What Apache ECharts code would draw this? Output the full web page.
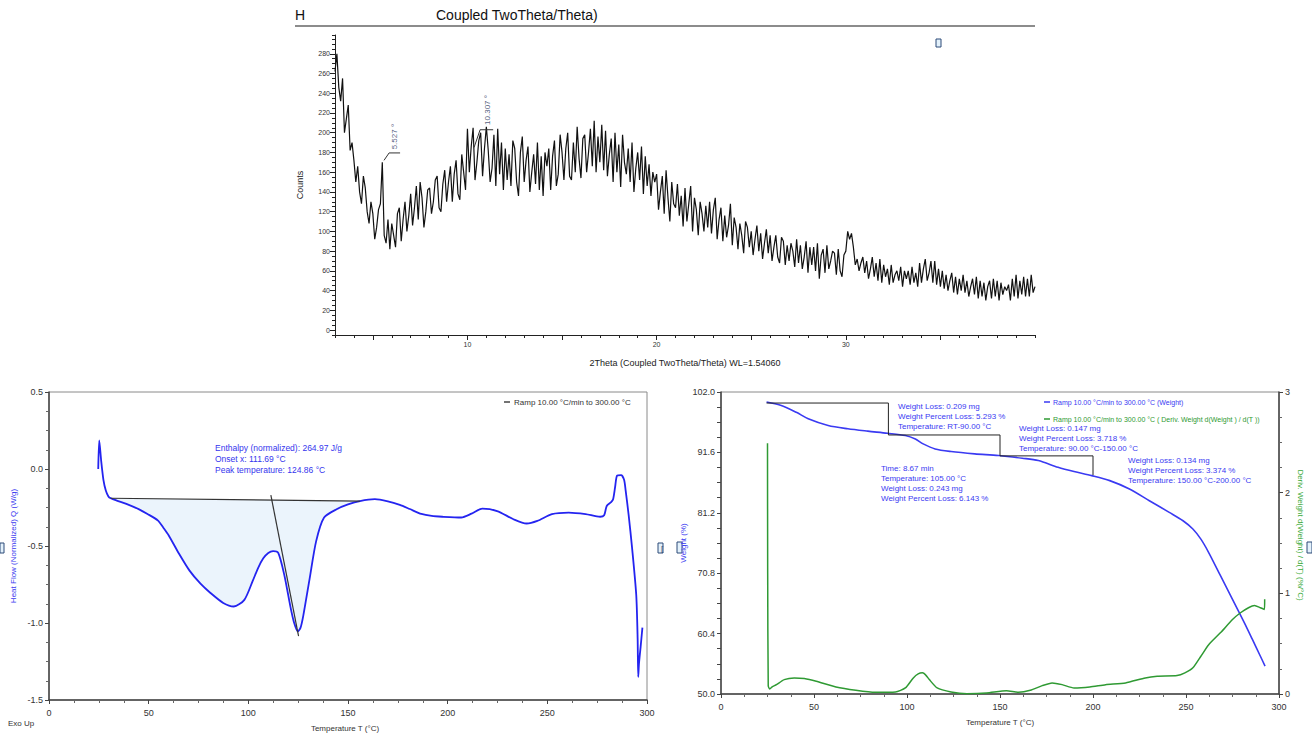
<!DOCTYPE html>
<html>
<head>
<meta charset="utf-8">
<title>XRD / DSC / TGA</title>
<script src="https://cdn.jsdelivr.net/npm/echarts@6/dist/echarts.min.js"></script>
<style>
  html, body { margin: 0; padding: 0; background: #fff; }
  #main { width: 1312px; height: 733px; }
</style>
</head>
<body>
<div id="main"></div>
<script>
// ---- XRD: counts read every 0.1 deg, 2theta 3.0 .. 40.0
var xrdStart = 3.0, xrdStep = 0.1;
var xrdCounts = [
  262, 280, 246, 232, 255, 200, 214, 228, 182, 190,
  172, 150, 166, 140, 128, 156, 144, 120, 108, 130,
  118, 92, 104, 122, 128, 170, 96, 88, 112, 82,
  108, 96, 84, 118, 124, 90, 112, 130, 100, 116,
  138, 106, 124, 146, 112, 150, 134, 104, 120, 142,
  144, 118, 130, 152, 156, 124, 120, 148, 162, 130,
  150, 166, 130, 158, 172, 138, 132, 178, 160, 142,
  204, 160, 186, 205, 152, 170, 192, 200, 156, 184,
  206, 182, 150, 164, 198, 146, 204, 158, 190, 142,
  184, 152, 178, 146, 192, 184, 150, 136, 180, 196,
  150, 172, 186, 140, 160, 178, 148, 190, 142, 176,
  136, 180, 166, 184, 142, 176, 192, 146, 158, 198,
  180, 152, 184, 200, 156, 152, 190, 160, 206, 174,
  154, 194, 198, 160, 180, 204, 166, 212, 160, 196,
  170, 208, 162, 202, 156, 178, 194, 150, 200, 160,
  188, 145, 198, 170, 158, 184, 150, 190, 140, 164,
  180, 152, 186, 138, 176, 146, 168, 136, 160, 150,
  158, 122, 140, 156, 118, 162, 134, 110, 150, 128,
  124, 148, 116, 136, 105, 144, 110, 128, 146, 100,
  134, 122, 96, 130, 118, 100, 126, 104, 130, 98,
  122, 134, 92, 112, 124, 90, 116, 94, 106, 128,
  86, 114, 104, 82, 108, 96, 78, 110, 104, 84,
  100, 76, 92, 106, 80, 98, 72, 88, 102, 78,
  96, 70, 84, 96, 74, 68, 94, 90, 66, 86,
  70, 88, 80, 64, 92, 68, 86, 62, 74, 90,
  58, 84, 66, 84, 60, 88, 52, 76, 82, 58,
  86, 62, 70, 80, 78, 56, 82, 60, 54, 76,
  80, 100, 92, 98, 84, 66, 72, 60, 68, 74,
  58, 70, 52, 62, 74, 54, 68, 50, 72, 48,
  66, 54, 62, 46, 66, 48, 56, 60, 50, 64,
  44, 60, 52, 60, 46, 64, 48, 58, 44, 68,
  48, 62, 72, 50, 58, 70, 48, 70, 46, 62,
  44, 60, 42, 56, 40, 50, 58, 38, 54, 36,
  52, 40, 56, 38, 50, 34, 44, 52, 36, 54,
  32, 50, 34, 48, 30, 44, 50, 32, 52, 34,
  50, 30, 48, 36, 44, 40, 46, 30, 52, 34,
  56, 32, 50, 36, 54, 34, 52, 34, 56, 38,
  44
];
var xrdXLabels = [10, 20, 30];
var xrdXMidTicks = [5, 15, 25, 35];
var xrdYLabels = [0, 20, 40, 60, 80, 100, 120, 140, 160, 180, 200, 220, 240, 260, 280];
var xrdPeakNames = ['5.527 °', '10.307 °'];
var xrdPeakLabelPos = [[6.17, 196], [11.04, 223]];
var xrdLeader1 = [[5.59, 172], [5.86, 179.5], [6.44, 179.5]];
var xrdLeader2 = [[10.35, 185], [10.67, 203], [11.36, 203]];

// ---- DSC: temperature (°C) / heat flow (W/g)
var dscTemp = [24.7, 25.2, 26.2, 27.3, 28.5, 29.8, 31, 34, 38.8, 45.2, 49.4, 54.7, 57.3, 60, 65, 70.5, 76, 81, 87.4, 92.7,
  98, 102.2, 105, 107.5, 110, 112.4, 115, 118, 121.2, 123, 124.8, 126.2, 127.6, 130.8, 134, 138, 144.5, 150, 156,
  163.5, 170, 176, 181, 186.8, 192, 197.3, 206.8, 212, 217.4, 224.8, 233, 239.6, 245, 252.3, 260.7, 269.2, 276.5,
  278.5, 279.8, 282, 283, 284, 285, 287, 288.5, 289.3, 290.8, 292.5, 294.6, 295.3, 295.6, 296, 296.8, 297.7];
var dscHeat = [0.0, 0.186, 0.05, -0.07, -0.14, -0.178, -0.19, -0.205, -0.226, -0.262, -0.292, -0.335, -0.38, -0.43, -0.545,
  -0.66, -0.745, -0.805, -0.87, -0.893, -0.85, -0.727, -0.64, -0.58, -0.545, -0.533, -0.545, -0.686, -0.90, -1.0, -1.055,
  -1.03, -0.95, -0.708, -0.47, -0.315, -0.26, -0.23, -0.208, -0.196, -0.21, -0.233, -0.26, -0.292, -0.305, -0.31,
  -0.315, -0.29, -0.257, -0.273, -0.326, -0.354, -0.337, -0.293, -0.283, -0.293, -0.31, -0.30, -0.24, -0.215,
  -0.196, -0.117, -0.043, -0.04, -0.07, -0.14, -0.30, -0.51, -0.817, -1.10, -1.35, -1.26, -1.155, -1.03];
var dscBaseline = [[31, -0.19], [156, -0.208]];
var dscOnsetLine = [[111.3, -0.17], [125.2, -1.085]];
var dscNotes = ['Enthalpy (normalized): 264.97 J/g', 'Onset x: 111.69 °C', 'Peak temperature: 124.86 °C'];

// ---- TGA: weight (%) and derivative (%/°C)
var tgaTemp = [24.5, 32, 40.5, 46.9, 57.6, 68.2, 78.9, 89.5, 99.1, 104.5, 108.7, 115.1, 123.7, 136.4, 149.2, 162,
  170.6, 181.2, 189.8, 199.3, 209, 219.6, 230.3, 241, 248.4, 253.7, 258, 262.2, 268.6, 275, 281.4, 285.7, 290, 292.5];
var tgaWeight = [100.27, 99.7, 98.5, 97.4, 96.24, 95.67, 95.26, 94.9, 94.5, 93.9, 93.07, 92.2, 91.75, 91.35, 91.06,
  90.6, 90.2, 89.04, 88.3, 87.6, 86.74, 85.3, 83.28, 81.27, 79.83, 78.4, 76.66, 74.36, 70.33, 66.3, 62.26, 59.4, 56.5, 54.8];
var dtgTemp = [25.0, 25.1, 25.4, 26.2, 27.5, 29.8, 34, 39.4, 44.8, 51.2, 61.8, 72.5, 83, 93.8, 99.1, 103.4, 106, 108.3,
  110, 112, 116.2, 123.7, 132.2, 142.8, 153.5, 160, 166.3, 172.7, 178, 183.4, 189.8, 198.3, 206.8, 217.5, 228.1,
  234.5, 245.2, 249.4, 253.7, 258, 262.2, 268.6, 275, 279.3, 283.6, 286.8, 290, 292.2, 292.3];
var dtgValue = [2.49, 1.2, 0.08, 0.05, 0.07, 0.093, 0.143, 0.16, 0.153, 0.126, 0.07, 0.037, 0.017, 0.02, 0.06, 0.16,
  0.2, 0.21, 0.19, 0.143, 0.06, 0.02, 0.003, 0.01, 0.033, 0.017, 0.037, 0.083, 0.11, 0.093, 0.06, 0.07, 0.093, 0.11,
  0.16, 0.176, 0.183, 0.21, 0.26, 0.375, 0.49, 0.61, 0.74, 0.807, 0.857, 0.88, 0.857, 0.84, 0.94];
var tgaLabels = [50, 60.4, 70.8, 81.2, 91.6, 102];
var tgaTicks = [50, 52.6, 55.2, 57.8, 60.4, 63, 65.6, 68.2, 70.8, 73.4, 76, 78.6, 81.2, 83.8, 86.4, 89, 91.6, 94.2, 96.8, 99.4, 102];
var tgaSteps = [
  [[24.5, 100.1], [90, 100.1], [90, 94.6]],
  [[90, 94.6], [150, 94.6], [150, 91.0]],
  [[150, 91.0], [200, 91.0], [200, 87.7]]
];
var tgaNotes1 = ['Weight Loss: 0.209 mg', 'Weight Percent Loss: 5.293 %', 'Temperature: RT-90.00 °C'];
var tgaNotes2 = ['Weight Loss: 0.147 mg', 'Weight Percent Loss: 3.718 %', 'Temperature: 90.00 °C-150.00 °C'];
var tgaNotes3 = ['Weight Loss: 0.134 mg', 'Weight Percent Loss: 3.374 %', 'Temperature: 150.00 °C-200.00 °C'];
var tgaNotes4 = ['Time: 8.67 min', 'Temperature: 105.00 °C', 'Weight Loss: 0.243 mg', 'Weight Percent Loss: 6.143 %'];

var FONT = '"Liberation Sans", Arial, sans-serif';
var chart = echarts.init(document.getElementById('main'), null, { renderer: 'svg' });

function zip(a, b) {
  return a.map(function (v, i) { return [v, b[i]]; });
}
var xrdData = xrdCounts.map(function (c, i) {
  return [+(xrdStart + i * xrdStep).toFixed(1), c];
});

function txt(x, y, text, size, color, opt) {
  opt = opt || {};
  return {
    type: 'text', x: x, y: y, rotation: opt.rot || 0, silent: true, z: 100,
    style: {
      text: text, fill: color, font: (opt.style || '') + ' ' + size + 'px ' + FONT,
      textAlign: opt.align || 'left', textVerticalAlign: 'middle'
    }
  };
}
function lines(x, y0, list, gap, size, color) {
  return list.map(function (s, i) { return txt(x, y0 + i * gap, s, size, color); });
}
function box(x, y, w, h) {
  return { type: 'rect', shape: { x: x, y: y, width: w, height: h }, silent: true,
    style: { fill: '#e3f1fb', stroke: '#2c4a78', lineWidth: 1 } };
}
function seg(x1, y1, x2, y2, color, w) {
  return { type: 'line', shape: { x1: x1, y1: y1, x2: x2, y2: y2 }, silent: true,
    style: { stroke: color, lineWidth: w } };
}

var axisDark = { onZero: false, lineStyle: { color: '#222', width: 1 } };
var axisGray = { onZero: false, lineStyle: { color: '#444', width: 1.5 } };
var lbl = function (size, extra) {
  var o = { fontSize: size, color: '#333', fontFamily: FONT };
  for (var k in extra) o[k] = extra[k];
  return o;
};

var option = {
  animation: false,
  backgroundColor: '#fff',
  grid: [
    { left: 335, right: 277, top: 35, bottom: 398 },
    { left: 49, right: 665, top: 392, bottom: 33, show: true, borderColor: '#8a8a8a', borderWidth: 1 },
    { left: 721, right: 33, top: 392, bottom: 39, show: true, borderColor: '#8a8a8a', borderWidth: 1 }
  ],
  xAxis: [
    { gridIndex: 0, type: 'value', position: 'bottom', min: 3, max: 40, interval: 1, axisLine: axisDark,
      axisTick: { length: 3, lineStyle: { color: '#222' } },
      axisLabel: lbl(7, { margin: 6, formatter: function (v) { return xrdXLabels.indexOf(v) >= 0 ? v : ''; } }),
      splitLine: { show: false } },
    { gridIndex: 0, type: 'value', position: 'bottom', min: 3, max: 40, axisLine: { show: false, onZero: false },
      axisTick: { length: 5, customValues: xrdXMidTicks.concat(xrdXLabels), lineStyle: { color: '#222' } },
      axisLabel: { show: false }, splitLine: { show: false } },
    { gridIndex: 1, type: 'value', min: 0, max: 300, interval: 50, axisLine: axisGray,
      axisTick: { length: 4, lineStyle: { color: '#444' } },
      minorTick: { show: true, splitNumber: 4, length: 3, lineStyle: { color: '#666' } },
      axisLabel: lbl(9, { margin: 8 }), splitLine: { show: false } },
    { gridIndex: 2, type: 'value', min: 0, max: 300, interval: 50, axisLine: axisGray,
      axisTick: { length: 4, lineStyle: { color: '#444' } },
      minorTick: { show: true, splitNumber: 4, length: 3, lineStyle: { color: '#666' } },
      axisLabel: lbl(9, { margin: 8 }), splitLine: { show: false } }
  ],
  yAxis: [
    { gridIndex: 0, type: 'value', position: 'left', min: -5, max: 299, interval: 5, axisLine: axisDark,
      axisTick: { length: 3, lineStyle: { color: '#222' } },
      axisLabel: lbl(7, { margin: 5, formatter: function (v) { return xrdYLabels.indexOf(v) >= 0 ? v : ''; } }),
      splitLine: { show: false } },
    { gridIndex: 0, type: 'value', position: 'left', min: -5, max: 299, axisLine: { show: false, onZero: false },
      axisTick: { length: 5, customValues: xrdYLabels, lineStyle: { color: '#222' } },
      axisLabel: { show: false }, splitLine: { show: false } },
    { gridIndex: 1, type: 'value', min: -1.5, max: 0.5, interval: 0.5, axisLine: axisGray,
      axisTick: { length: 4, lineStyle: { color: '#444' } },
      minorTick: { show: true, splitNumber: 4, length: 3, lineStyle: { color: '#666' } },
      axisLabel: lbl(9, { margin: 6, formatter: function (v) { return v.toFixed(1); } }),
      splitLine: { show: false } },
    { gridIndex: 2, type: 'value', position: 'left', min: 50, max: 102, axisLine: axisGray,
      axisTick: { length: 4, customValues: tgaTicks, lineStyle: { color: '#444' } },
      axisLabel: lbl(9, { margin: 6, customValues: tgaLabels, formatter: function (v) { return v.toFixed(1); } }),
      splitLine: { show: false } },
    { gridIndex: 2, type: 'value', position: 'right', min: 0, max: 3, interval: 1, axisLine: axisGray,
      axisTick: { length: 4, lineStyle: { color: '#444' } },
      minorTick: { show: true, splitNumber: 4, length: 3, lineStyle: { color: '#666' } },
      axisLabel: lbl(9, { margin: 6 }), splitLine: { show: false } }
  ],
  series: [
    // XRD pattern
    { name: 'XRD', type: 'line', xAxisIndex: 0, yAxisIndex: 0, data: xrdData, showSymbol: false,
      lineStyle: { color: '#111', width: 1.2 }, silent: true },
    { type: 'line', xAxisIndex: 0, yAxisIndex: 0, data: xrdLeader1, showSymbol: false,
      lineStyle: { color: '#333', width: 1 }, silent: true },
    { type: 'line', xAxisIndex: 0, yAxisIndex: 0, data: xrdLeader2, showSymbol: false,
      lineStyle: { color: '#333', width: 1 }, silent: true },
    { type: 'scatter', xAxisIndex: 0, yAxisIndex: 0, symbolSize: 0, silent: true, z: 5,
      data: xrdPeakLabelPos.map(function (p, i) { return [p[0], p[1], xrdPeakNames[i]]; }),
      label: { show: true, position: 'inside', rotate: 90, fontSize: 8, color: '#26325a', fontFamily: FONT,
        formatter: function (p) { return p.value[2]; } } },

    // DSC
    { type: 'custom', xAxisIndex: 2, yAxisIndex: 2, data: [[0, 0]], silent: true, z: 1,
      renderItem: function (params, api) {
        var pts = [];
        for (var i = 0; i < dscTemp.length; i++) {
          if (dscTemp[i] >= dscBaseline[0][0] && dscTemp[i] <= dscBaseline[1][0]) {
            pts.push(api.coord([dscTemp[i], dscHeat[i]]));
          }
        }
        pts.push(api.coord(dscBaseline[1]));
        pts.push(api.coord(dscBaseline[0]));
        return { type: 'polygon', shape: { points: pts }, style: { fill: '#ebf4fc' } };
      } },
    { name: 'Ramp 10.00 °C/min to 300.00 °C', type: 'line', xAxisIndex: 2, yAxisIndex: 2,
      data: zip(dscTemp, dscHeat), showSymbol: false, smooth: 0.25, z: 3,
      lineStyle: { color: '#2424f0', width: 1.8 }, silent: true },
    { type: 'line', xAxisIndex: 2, yAxisIndex: 2, data: dscBaseline, showSymbol: false, z: 4,
      lineStyle: { color: '#333', width: 1.2 }, silent: true },
    { type: 'line', xAxisIndex: 2, yAxisIndex: 2, data: dscOnsetLine, showSymbol: false, z: 4,
      lineStyle: { color: '#333', width: 1.2 }, silent: true },

    // TGA
    { name: 'Ramp 10.00 °C/min to 300.00 °C (Weight)', type: 'line', xAxisIndex: 3, yAxisIndex: 3,
      data: zip(tgaTemp, tgaWeight), showSymbol: false, smooth: 0.3, z: 3,
      lineStyle: { color: '#3a3af2', width: 1.6 }, silent: true },
    { name: 'Ramp 10.00 °C/min to 300.00 °C ( Deriv. Weight d(Weight ) / d(T ))', type: 'line',
      xAxisIndex: 3, yAxisIndex: 4, data: zip(dtgTemp, dtgValue), showSymbol: false, smooth: 0.2, z: 3,
      lineStyle: { color: '#2f9a33', width: 1.5 }, silent: true }
  ].concat(tgaSteps.map(function (s) {
    return { type: 'line', xAxisIndex: 3, yAxisIndex: 3, data: s, showSymbol: false, z: 4,
      lineStyle: { color: '#222', width: 1 }, silent: true };
  })),
  graphic: [
    // XRD header
    txt(295, 15, 'H', 14, '#111'),
    txt(436, 15, 'Coupled TwoTheta/Theta)', 14, '#111'),
    seg(295, 26, 1035, 26, '#666', 1.5),
    box(936, 39, 5, 8),
    txt(685, 363, '2Theta (Coupled TwoTheta/Theta) WL=1.54060', 9, '#222', { align: 'center' }),
    txt(300, 185, 'Counts', 9, '#222', { align: 'center', rot: Math.PI / 2 }),

    // DSC texts
    seg(504, 402, 510, 402, '#444', 1.5),
    txt(514, 402, 'Ramp 10.00 °C/min to 300.00 °C', 8, '#333'),
    txt(13, 546, 'Heat Flow (Normalized) Q (W/g)', 8, '#3a3af0', { align: 'center', rot: Math.PI / 2 }),
    box(0, 543, 4, 10),
    box(658, 543, 5, 10),
    txt(8, 723, 'Exo Up', 8, '#333'),
    txt(345, 728, 'Temperature T (°C)', 8, '#333', { align: 'center' }),

    // TGA texts
    seg(1044, 402, 1050, 402, '#3a3af2', 1.5),
    txt(1053, 402, 'Ramp 10.00 °C/min to 300.00 °C (Weight)', 7, '#3a3af2'),
    seg(1044, 419, 1050, 419, '#2f9a33', 1.5),
    txt(1053, 419, 'Ramp 10.00 °C/min to 300.00 °C ( Deriv. Weight d(Weight ) / d(T ))', 7, '#2f9a33'),
    txt(683, 543, 'Weight (%)', 8, '#3a3af2', { align: 'center', rot: Math.PI / 2 }),
    txt(661, 548, '[', 8, '#2c4a78'),
    box(677, 542, 5, 11),
    box(1307, 542, 5, 11),
    txt(1300, 535, 'Deriv. Weight d(Weight) / d(T) (%/°C)', 8, '#3aaa3a', { align: 'center', rot: -Math.PI / 2 }),
    txt(1000, 722, 'Temperature T (°C)', 8, '#333', { align: 'center' })
  ]
    .concat(lines(215, 448, dscNotes, 11, 8.5, '#3535ee'))
    .concat(lines(898, 406, tgaNotes1, 10, 8, '#3a3af2'))
    .concat(lines(1019, 428, tgaNotes2, 10, 8, '#3a3af2'))
    .concat(lines(1128, 460, tgaNotes3, 10, 8, '#3a3af2'))
    .concat(lines(881, 468, tgaNotes4, 10.3, 8, '#3a3af2'))
};

chart.setOption(option);
</script>
</body>
</html>
